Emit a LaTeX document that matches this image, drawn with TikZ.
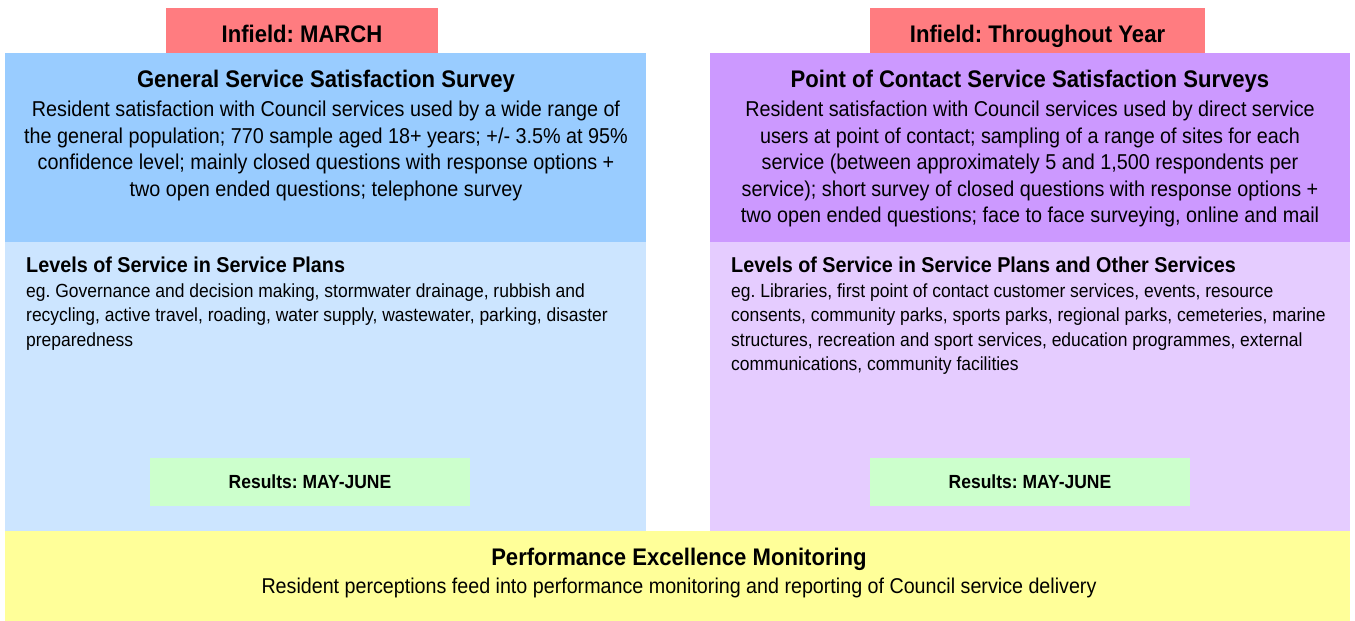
\documentclass[tikz,border=0pt]{standalone}
\usepackage{fontspec}
\setmainfont{Liberation Sans}[FakeStretch=0.92]
\usetikzlibrary{positioning}

\definecolor{infieldred}{HTML}{FF7C80}
\definecolor{gssblue}{HTML}{99CCFF}
\definecolor{gsslight}{HTML}{CCE5FF}
\definecolor{pocpurple}{HTML}{CC99FF}
\definecolor{poclight}{HTML}{E5CCFF}
\definecolor{resultgreen}{HTML}{CCFFCC}
\definecolor{pemyellow}{HTML}{FFFF99}

\tikzset{
    panel/.style={draw=none, inner sep=0pt, anchor=north west},
    infield/.style={font=\bfseries\fontsize{24}{28}\selectfont, anchor=base},
    heading/.style={font=\bfseries\fontsize{24}{28}\selectfont, anchor=base},
    body/.style={font=\fontsize{21.5}{26.5}\selectfont, align=center, anchor=north, inner sep=0pt},
    levels/.style={font=\fontsize{19}{24.5}\selectfont, align=left, anchor=north west, inner sep=0pt},
    results/.style={font=\bfseries\fontsize{19}{22}\selectfont}
}

\begin{document}
\frenchspacing
\begin{tikzpicture}[x=1pt, y=-1pt]

    % Page frame
    \fill[white] (0,0) rectangle (1355,621);
    \useasboundingbox (0,0) rectangle (1355,621);

    % Infield tabs
    \node[panel, fill=infieldred, minimum width=272, minimum height=45] (tabL) at (166,8) {};
    \node[panel, fill=infieldred, minimum width=335, minimum height=45] (tabR) at (870,8) {};
    \node[infield] at (302,42) {Infield: MARCH};
    \node[infield] at (1037.5,42) {Infield: Throughout Year};

    % Survey boxes (top part)
    \node[panel, fill=gssblue, minimum width=641, minimum height=189] (gss) at (5,53) {};
    \node[panel, fill=pocpurple, minimum width=640, minimum height=189] (poc) at (710,53) {};

    % Service level boxes (lower part)
    \node[panel, fill=gsslight, minimum width=641, minimum height=289] (gssLvl) at (5,242) {};
    \node[panel, fill=poclight, minimum width=640, minimum height=289] (pocLvl) at (710,242) {};

    % Monitoring strip along the bottom
    \node[panel, fill=pemyellow, minimum width=1345, minimum height=90] (pem) at (5,531) {};

    % General survey text
    \node[heading] (gssTitle) at (326,87) {General Service Satisfaction Survey};
    \node[body] (gssText) at (326,101) {Resident satisfaction with Council services used by a wide range of\\
        the general population; 770 sample aged 18+ years; +/- 3.5\% at 95\%\\
        confidence level; mainly closed questions with response options +\\
        two open ended questions; telephone survey};

    % Point of contact survey text
    \node[heading] (pocTitle) at (1030,87) {Point of Contact Service Satisfaction Surveys};
    \node[body] (pocText) at (1030,101) {Resident satisfaction with Council services used by direct service\\
        users at point of contact; sampling of a range of sites for each\\
        service (between approximately 5 and 1,500 respondents per\\
        service); short survey of closed questions with response options +\\
        two open ended questions; face to face surveying, online and mail};

    % Levels of service lists
    \node[levels] (gssList) at (26,257) {{\bfseries\fontsize{21.5}{24.5}\selectfont Levels of Service in Service Plans}\\
        eg. Governance and decision making, stormwater drainage, rubbish and\\
        recycling, active travel, roading, water supply, wastewater, parking, disaster\\
        preparedness};
    \node[levels] (pocList) at (731,257) {{\bfseries\fontsize{21.5}{24.5}\selectfont Levels of Service in Service Plans and Other Services}\\
        eg. Libraries, first point of contact customer services, events, resource\\
        consents, community parks, sports parks, regional parks, cemeteries, marine\\
        structures, recreation and sport services, education programmes, external\\
        communications, community facilities};

    % Results boxes
    \node[fill=resultgreen, minimum width=320, minimum height=48, results] (resL) at (310,482) {Results: MAY-JUNE};
    \node[fill=resultgreen, minimum width=320, minimum height=48, results] (resR) at (1030,482) {Results: MAY-JUNE};

    % Monitoring text
    \node[heading] (pemTitle) at (679,565) {Performance Excellence Monitoring};
    \node[font=\fontsize{21.4}{25}\selectfont, anchor=base] (pemText) at (679,593) {Resident perceptions feed into performance monitoring and reporting of Council service delivery};

\end{tikzpicture}
\end{document}
